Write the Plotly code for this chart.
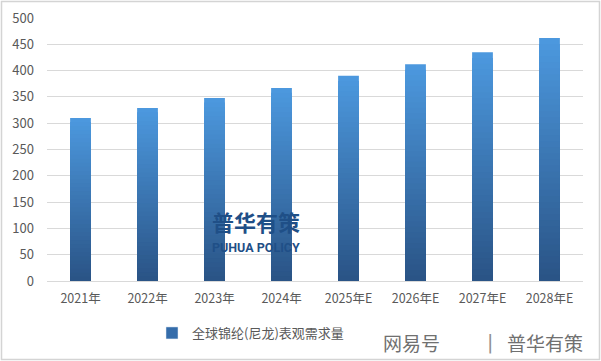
import plotly.graph_objects as go
import numpy as np

categories = ["2021年", "2022年", "2023年", "2024年", "2025年E", "2026年E", "2027年E", "2028年E"]
demand = [310, 329, 348, 367, 390, 412, 435, 462]
series_name = "全球锦纶(尼龙)表观需求量"
y_ticks = [0, 50, 100, 150, 200, 250, 300, 350, 400, 450, 500]

top_rgb = np.array([76, 152, 222])
bot_rgb = np.array([42, 84, 134])
N = 40

W, H = 601, 361
L, R, T, B = 47, 18, 18, 80
PW, PH = W - L - R, H - T - B


def px(x):
    return (x - L) / PW


def py(y):
    return (H - B - y) / PH


fig = go.Figure()
vals = np.array(demand, dtype=float)
for k in range(N):
    t = k / (N - 1)
    c = top_rgb * (1 - t) + bot_rgb * t
    color = "rgb(%d,%d,%d)" % tuple(c.round().astype(int))
    fig.add_trace(go.Bar(
        x=categories, y=vals * (1 - k / N),
        marker=dict(color=color, line=dict(width=0)),
        name=series_name, showlegend=False, hoverinfo="skip" if k else None,
    ))
# legend entry
fig.add_trace(go.Bar(x=[categories[0]], y=[None], name=series_name,
                     marker=dict(color="rgb(52,108,170)"), showlegend=True))


def ann(text, x, y, size, color, family, anchor="center"):
    return dict(text=text, x=px(x), y=py(y), xref="paper", yref="paper",
                xanchor=anchor, yanchor="middle", showarrow=False,
                font=dict(size=size, color=color, family=family))


fig.update_layout(
    barmode="overlay",
    bargap=0.69,
    width=W, height=H,
    margin=dict(l=L, r=R, t=T, b=B, autoexpand=False),
    paper_bgcolor="white", plot_bgcolor="white",
    font=dict(family="Noto Sans CJK SC, Microsoft YaHei, sans-serif", color="#595959", size=13),
    xaxis=dict(showgrid=False, showline=True, linecolor="#d9d9d9", linewidth=1,
               ticks="", tickfont=dict(size=12.5, color="#595959"), ticklabelstandoff=6),
    yaxis=dict(range=[0, 500], tickvals=y_ticks, showgrid=True, gridcolor="#d9d9d9",
               gridwidth=1, zeroline=False, showline=False, ticks="",
               tickfont=dict(size=13, color="#595959"), ticklabelstandoff=12),
    legend=dict(orientation="h", x=px(152), xanchor="left", y=py(333), yanchor="middle",
                font=dict(size=13, color="#595959"), itemwidth=30,
                bgcolor="rgba(0,0,0,0)"),
    showlegend=True,
    shapes=[dict(type="rect", xref="paper", yref="paper",
                 x0=px(1.5), x1=px(599.5), y0=py(359.5), y1=py(1.5),
                 line=dict(color="#d4d4d4", width=1.5), layer="below")],
    annotations=[
        ann("<b>普华有策</b>", 256, 221, 22, "#1f4f87", "Noto Sans CJK SC, sans-serif"),
        ann("<b>PUHUA POLICY</b>", 256, 247, 12.5, "#1f4f87", "Liberation Sans Narrow, Roboto, sans-serif"),
        ann("网易号", 411, 342, 19, "#707070", "Noto Sans CJK SC, sans-serif"),
        ann("|", 490, 342, 19, "#909090", "DejaVu Sans, sans-serif"),
        ann("普华有策", 545, 342, 19, "#707070", "Noto Sans CJK SC, sans-serif"),
    ],
)

fig.write_html("out.html", config={"displayModeBar": False},
               post_script="document.body.style.margin='0';document.body.style.overflow='hidden';")
